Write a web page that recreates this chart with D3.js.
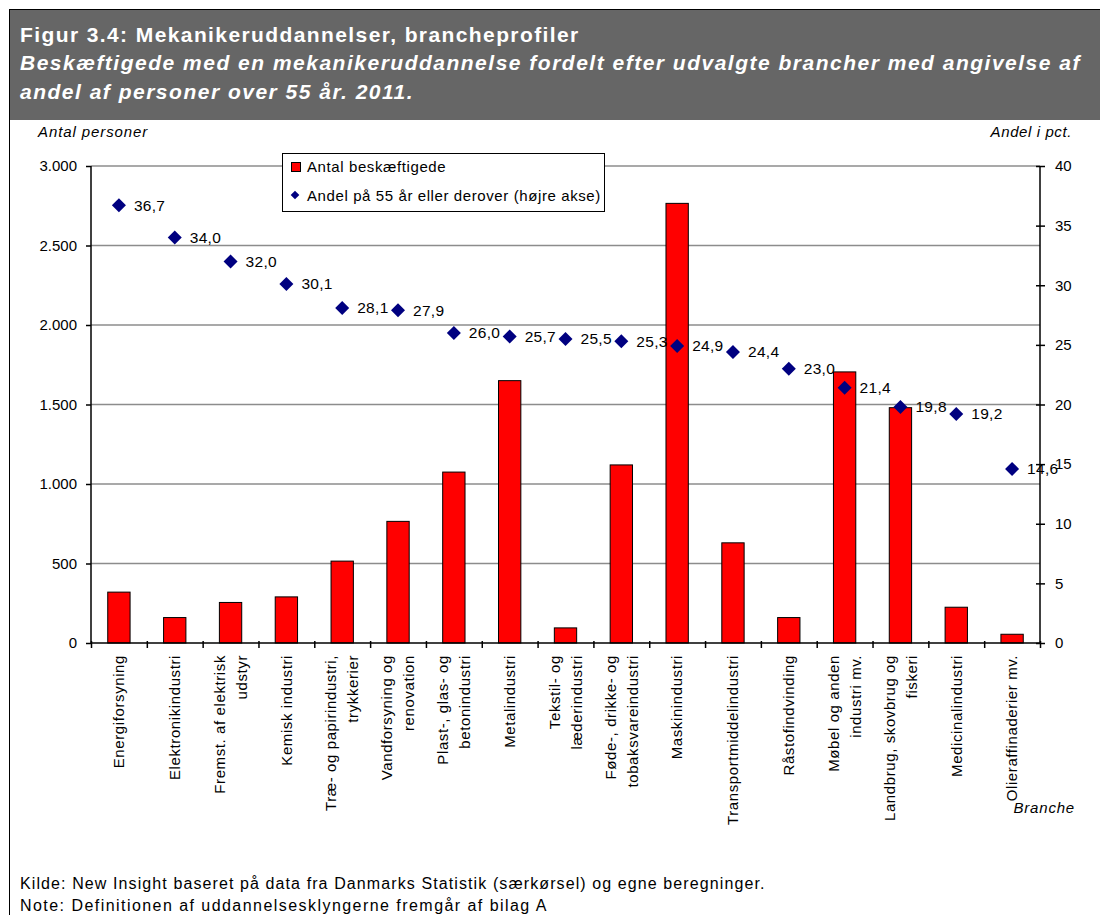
<!DOCTYPE html>
<html>
<head>
<meta charset="utf-8">
<script src="https://cdn.jsdelivr.net/npm/d3@7"></script>
<style>
  body { margin: 0; background: #fff; }
  svg { display: block; font-family: "Liberation Sans", Arial, sans-serif; }
</style>
</head>
<body>
<script>
// branches (multi-line labels as arrays of lines)
const categories = [
  ["Energiforsyning"],
  ["Elektronikindustri"],
  ["Fremst. af elektrisk", "udstyr"],
  ["Kemisk industri"],
  ["Træ- og papirindustri,", "trykkerier"],
  ["Vandforsyning og", "renovation"],
  ["Plast-, glas- og", "betonindustri"],
  ["Metalindustri"],
  ["Tekstil- og", "læderindustri"],
  ["Føde-, drikke- og", "tobaksvareindustri"],
  ["Maskinindustri"],
  ["Transportmiddelindustri"],
  ["Råstofindvinding"],
  ["Møbel og anden", "industri mv."],
  ["Landbrug, skovbrug og", "fiskeri"],
  ["Medicinalindustri"],
  ["Olieraffinaderier mv."]
];
// Antal beskæftigede
const employed = [320, 160, 255, 290, 515, 765, 1075, 1650, 95, 1120, 2765, 630, 160, 1705, 1480, 225, 55];
// Andel på 55 år eller derover (pct.)
const share55 = [36.7, 34.0, 32.0, 30.1, 28.1, 27.9, 26.0, 25.7, 25.5, 25.3, 24.9, 24.4, 23.0, 21.4, 19.8, 19.2, 14.6];

const leftTicks = [0, 500, 1000, 1500, 2000, 2500, 3000];
const rightTicks = [0, 5, 10, 15, 20, 25, 30, 35, 40];

const w = 1100;
const h = 915;
const x0 = 91, x1 = 1040, yTop = 166, yBot = 643;

const svg = d3.select("body")
              .append("svg")
              .attr("width", w)
              .attr("height", h);

const daLocale = d3.formatLocale({decimal: ",", thousands: ".", grouping: [3], currency: ["", ""]});
const fmtThousands = daLocale.format(",");
const fmtPct = daLocale.format(".1f");

// header
svg.append("rect")
   .attr("x", 9).attr("y", 9)
   .attr("width", w - 9).attr("height", 111)
   .attr("fill", "#666666");
svg.append("line")
   .attr("x1", 9).attr("x2", w).attr("y1", 9.5).attr("y2", 9.5)
   .attr("stroke", "#000");
svg.append("line")
   .attr("x1", 9.5).attr("x2", 9.5).attr("y1", 9).attr("y2", h)
   .attr("stroke", "#000");

svg.append("text")
   .attr("x", 20).attr("y", 42)
   .attr("fill", "#fff")
   .attr("font-size", 21).attr("font-weight", "bold")
   .attr("letter-spacing", 1.4)
   .text("Figur 3.4: Mekanikeruddannelser, brancheprofiler");

const subtitle = ["Beskæftigede med en mekanikeruddannelse fordelt efter udvalgte brancher med angivelse af",
                  "andel af personer over 55 år. 2011."];
svg.selectAll("text.sub")
   .data(subtitle)
   .enter()
   .append("text")
   .attr("class", "sub")
   .attr("x", 20)
   .attr("y", (d, i) => 70 + i * 29)
   .attr("fill", "#fff")
   .attr("font-size", 21).attr("font-weight", "bold").attr("font-style", "italic")
   .attr("letter-spacing", 1.5)
   .text(d => d);

///////////////////////

const xBand = d3.scaleBand()
                .domain(d3.range(categories.length))
                .range([x0, x1])
                .paddingInner(0.6)
                .paddingOuter(0.3);

const xEdge = d3.scaleLinear()
                .domain([0, categories.length])
                .range([x0, x1]);

const yLeft = d3.scaleLinear()
                .domain([0, 3000])
                .range([yBot, yTop]);

const yRight = d3.scaleLinear()
                 .domain([0, 40])
                 .range([yBot, yTop]);

// gridlines
svg.selectAll("line.grid")
   .data(leftTicks.slice(1))
   .enter()
   .append("line")
   .attr("class", "grid")
   .attr("x1", x0).attr("x2", x1)
   .attr("y1", d => yLeft(d)).attr("y2", d => yLeft(d))
   .attr("stroke", "#8c8c8c")
   .attr("stroke-width", 1.5);

// bars
svg.selectAll("rect.bar")
   .data(employed)
   .enter()
   .append("rect")
   .attr("class", "bar")
   .attr("x", (d, i) => xBand(i))
   .attr("width", xBand.bandwidth())
   .attr("y", d => yLeft(d))
   .attr("height", d => yBot - yLeft(d))
   .attr("fill", "#ff0000")
   .attr("stroke", "#000")
   .attr("stroke-width", 1);

// axes
const yAxisL = d3.axisLeft(yLeft).tickValues(leftTicks).tickFormat(fmtThousands).tickSize(5).tickPadding(9);
const gL = svg.append("g")
   .attr("transform", "translate(" + x0 + ",0)")
   .call(yAxisL);

const yAxisR = d3.axisRight(yRight).tickValues(rightTicks).tickSize(5).tickPadding(10);
const gR = svg.append("g")
   .attr("transform", "translate(" + x1 + ",0)")
   .call(yAxisR);
gR.selectAll(".tick line").attr("x1", -4);

const xAxis = d3.axisBottom(xEdge).tickValues(d3.range(categories.length + 1)).tickFormat("").tickSize(5);
const gX = svg.append("g")
   .attr("transform", "translate(0," + yBot + ")")
   .call(xAxis);
gX.selectAll(".tick line").attr("y1", -2);

[gL, gR, gX].forEach(g => {
  g.select(".domain").attr("stroke", "#000").attr("stroke-width", 1.5);
  g.selectAll(".tick line").attr("stroke", "#000").attr("stroke-width", 1.5);
  g.selectAll(".tick text")
   .attr("font-family", "'Liberation Sans', Arial, sans-serif")
   .attr("font-size", 15)
   .attr("fill", "#000");
});
gX.select(".domain").attr("d", "M" + x0 + ",0H" + x1);
gL.select(".domain").attr("d", "M0," + yBot + "V" + yTop);
gR.select(".domain").attr("d", "M0," + yBot + "V" + yTop);

// category labels, rotated
const labels = svg.selectAll("g.cat")
   .data(categories)
   .enter()
   .append("g")
   .attr("class", "cat")
   .attr("transform", (d, i) => "translate(" + (xBand(i) + xBand.bandwidth() / 2) + ",655) rotate(-90)");

labels.each(function(lines) {
  d3.select(this).selectAll("text")
    .data(lines)
    .enter()
    .append("text")
    .attr("x", 0)
    .attr("y", (d, j) => (j - (lines.length - 1) / 2) * 22)
    .attr("dy", "0.35em")
    .attr("text-anchor", "end")
    .attr("font-size", 15)
    .attr("letter-spacing", 0.6)
    .text(d => d);
});

// diamonds (right axis)
const diamond = d3.symbol().type(d3.symbolDiamond2).size(125);
svg.selectAll("path.pt")
   .data(share55)
   .enter()
   .append("path")
   .attr("class", "pt")
   .attr("d", diamond)
   .attr("transform", (d, i) => "translate(" + (xBand(i) + xBand.bandwidth() / 2) + "," + yRight(d) + ")")
   .attr("fill", "#000080");

svg.selectAll("text.val")
   .data(share55)
   .enter()
   .append("text")
   .attr("class", "val")
   .attr("x", (d, i) => xBand(i) + xBand.bandwidth() / 2 + 15)
   .attr("y", d => yRight(d))
   .attr("dy", "0.35em")
   .attr("font-size", 15.5)
   .attr("letter-spacing", 0.3)
   .text(d => fmtPct(d));

// axis titles
svg.append("text").attr("x", 38).attr("y", 137)
   .attr("font-size", 15).attr("font-style", "italic").attr("letter-spacing", 0.9)
   .text("Antal personer");
svg.append("text").attr("x", 1072).attr("y", 137).attr("text-anchor", "end")
   .attr("font-size", 15).attr("font-style", "italic").attr("letter-spacing", 0.6)
   .text("Andel i pct.");
svg.append("text").attr("x", 1075).attr("y", 813).attr("text-anchor", "end")
   .attr("font-size", 15).attr("font-style", "italic").attr("letter-spacing", 0.8)
   .text("Branche");

// legend
const lg = svg.append("g");
lg.append("rect")
  .attr("x", 282.5).attr("y", 153.5).attr("width", 322).attr("height", 58)
  .attr("fill", "#fff").attr("stroke", "#000").attr("stroke-width", 1);
lg.append("rect")
  .attr("x", 291.5).attr("y", 162.5).attr("width", 9).attr("height", 9)
  .attr("fill", "#ff0000").attr("stroke", "#000");
lg.append("text").attr("x", 307).attr("y", 172)
  .attr("font-size", 15).attr("letter-spacing", 0.6)
  .text("Antal beskæftigede");
lg.append("path")
  .attr("d", d3.symbol().type(d3.symbolDiamond2).size(48))
  .attr("transform", "translate(295,195)")
  .attr("fill", "#000080");
lg.append("text").attr("x", 307).attr("y", 201)
  .attr("font-size", 15).attr("letter-spacing", 0.6)
  .text("Andel på 55 år eller derover (højre akse)");

// footer
const notes = ["Kilde: New Insight baseret på data fra Danmarks Statistik (særkørsel) og egne beregninger.",
               "Note: Definitionen af uddannelsesklyngerne fremgår af bilag A"];
svg.selectAll("text.note")
   .data(notes)
   .enter()
   .append("text")
   .attr("class", "note")
   .attr("x", 20)
   .attr("y", (d, i) => 889 + i * 22)
   .attr("font-size", 16)
   .attr("letter-spacing", (d, i) => i === 0 ? 1.1 : 1.45)
   .text(d => d);
</script>
</body>
</html>
